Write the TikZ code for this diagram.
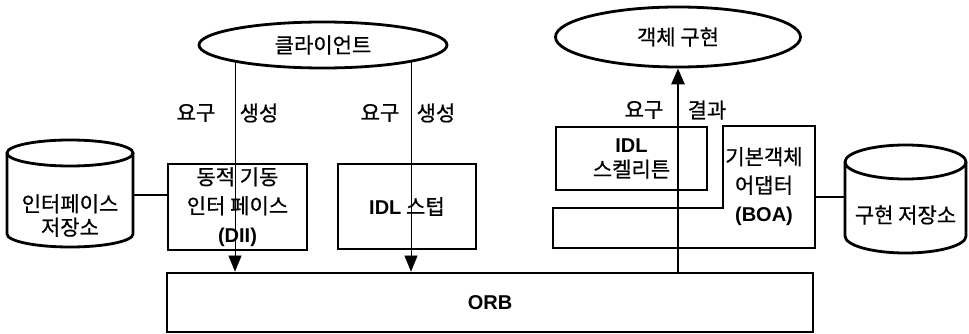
\documentclass[tikz,border=0pt]{standalone}
\usepackage{fontspec}
\setmainfont{Noto Sans CJK KR}[FakeBold=0.7]
\newfontfamily\latf{Liberation Sans}
\usetikzlibrary{arrows.meta,shapes.geometric,backgrounds}
\newcommand\latb[1]{{\latf\bfseries\fontsize{20}{22}\selectfont #1}}
\begin{document}
\begin{tikzpicture}[x=1pt,y=-1pt, line width=2.8pt,
  every node/.style={font=\fontsize{21}{29}\selectfont, inner sep=0pt},
  box/.style={draw, rectangle, align=center},
  ell/.style={draw, ellipse, fill=white},
  txt/.style={align=center},
  arr/.style={-{Triangle[length=16pt,width=13pt]}}]
\useasboundingbox (0,0) rectangle (969,334);
% ellipses
\node[ell, minimum width=248pt, minimum height=46pt] (client) at (323,45) {클라이언트};
\node[ell, minimum width=245pt, minimum height=60pt] (impl) at (678,37) {객체 구현};
% boxes
\node[box, minimum width=139pt, minimum height=86pt] (dii) at (237.5,207) {동적 기동\\인터 페이스\\\latb{(DII)}};
\node[box, minimum width=138pt, minimum height=85pt] (stub) at (407,206.5) {\latb{IDL} 스텁};
\node[box, minimum width=646pt, minimum height=59pt] (orb) at (490,302.5) {\latb{ORB}};
\node[box, minimum width=151pt, minimum height=63pt, font=\fontsize{21}{25}\selectfont] (skel) at (631.5,158.5) {\latb{IDL}\\스켈리튼};
% BOA
\draw (723,126) -- (815,126) -- (815,248) -- (553,248) -- (553,208) -- (723,208) -- cycle;
\node[txt, font=\fontsize{21}{28.5}\selectfont] (boa) at (764,186.5) {기본객체\\어댑터\\\latb{(BOA)}};
\coordinate (boaE) at (815,197);
% interface repository cylinder
\draw (70,153) ellipse [x radius=63pt, y radius=13pt];
\draw (7,153) -- (7,234) arc[start angle=180, end angle=360, x radius=63pt, y radius=13pt] -- (133,153);
\node[minimum width=126pt, minimum height=1pt] (irep) at (70,195) {};
\node[txt, font=\fontsize{21}{23.5}\selectfont] (irepT) at (70,215.5) {인터페이스\\저장소};
% implementation repository cylinder
\draw (905.5,162) ellipse [x radius=60.5pt, y radius=17pt];
\draw (845,162) -- (845,236) arc[start angle=180, end angle=360, x radius=60.5pt, y radius=17pt] -- (966,162);
\node[minimum width=121pt, minimum height=1pt] (crep) at (905.5,197) {};
\node (crepT) at (905.5,215) {구현 저장소};
% connections
\draw (irep.east) -- (irep.east -| dii.west);
\draw (crep.west) -- (boaE);
% labels
\node (la1) at (196,113) {요구};
\node (lb1) at (259,113) {생성};
\node (la2) at (380,113) {요구};
\node (lb2) at (436,113) {생성};
\node (la3) at (644,110) {요구};
\node (lb3) at (707,110) {결과};
% arrows
\coordinate (x1) at (235,0);
\coordinate (x2) at (411,0);
\begin{scope}[on background layer]
\draw[arr] (client.center -| x1) -- (orb.north -| x1);
\draw[arr] (client.center -| x2) -- (orb.north -| x2);
\end{scope}
\draw[arr] (orb.north -| impl.south) -- (impl.south);
\end{tikzpicture}
\end{document}
